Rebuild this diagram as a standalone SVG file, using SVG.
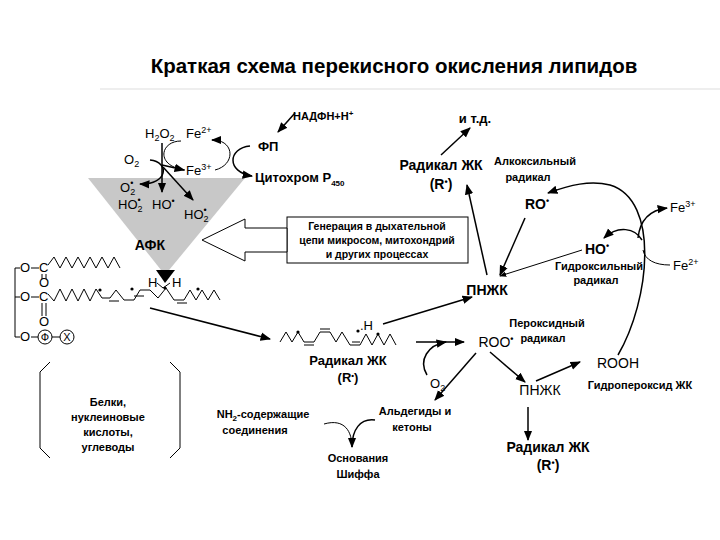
<svg xmlns="http://www.w3.org/2000/svg" width="720" height="540" viewBox="0 0 720 540">
<defs>
<marker id="a" viewBox="0 0 10 10" refX="9" refY="5" markerWidth="7" markerHeight="7" orient="auto-start-reverse"><path d="M0,1 L10,5 L0,9 z" fill="#000"/></marker>
<style>
text{font-family:"Liberation Sans",Arial,sans-serif;fill:#000}
.b{font-weight:bold}
.s{font-size:13px}
.m{font-size:14px}
.t{font-size:11px}
.ln{fill:none;stroke:#000;stroke-width:1.5}
.ar{fill:none;stroke:#000;stroke-width:1.5;marker-end:url(#a)}
.th{fill:none;stroke:#000;stroke-width:1}
</style>
</defs>
<rect width="720" height="540" fill="#fff"/>
<text x="394" y="73" text-anchor="middle" class="b" font-size="20.5">Краткая схема перекисного окисления липидов</text>
<line x1="100" y1="89" x2="720" y2="89" stroke="#ddd" stroke-width="1"/>

<g id="afk">
<polygon points="88,178 245,178 165,275" fill="#c8c8c8"/>
<polygon points="156,270 175,270 165,283" fill="#000"/>
<text x="150" y="250" text-anchor="middle" class="b m">АФК</text>
<text x="145" y="138" class="s">H<tspan font-size="9" dy="3">2</tspan><tspan dy="-3">O</tspan><tspan font-size="9" dy="3">2</tspan></text>
<text x="186" y="138" class="s">Fe<tspan font-size="9" dy="-5">2+</tspan></text>
<text x="124" y="164" class="s">O<tspan font-size="9" dy="3">2</tspan></text>
<text x="186" y="175" class="s">Fe<tspan font-size="9" dy="-5">3+</tspan></text>
<text x="120" y="192" class="s">O<tspan font-size="9" dy="3">2</tspan><tspan font-size="9" dx="-5" dy="-9">•</tspan></text>
<text x="118" y="209" class="s">HO<tspan font-size="9" dy="3">2</tspan><tspan font-size="9" dx="-5" dy="-9">•</tspan></text>
<text x="152" y="209" class="s">HO<tspan font-size="9" dy="-5">•</tspan></text>
<text x="184" y="219" class="s">HO<tspan font-size="9" dy="3">2</tspan><tspan font-size="9" dx="-5" dy="-9">•</tspan></text>
<line x1="162" y1="143" x2="162" y2="192" class="ar"/>
<path d="M181,141 C160,141 155,166 185,170" class="th"/>
<path d="M162,165 L184,170" class="ar"/>
<path d="M215,170 C235,165 235,142 215,140" class="th"/>
<path d="M215,140 L212,140" class="ar"/>
<path d="M150,160 C170,162 168,185 140,184" class="ar"/>
<path d="M163,167 L193,200" class="ar"/>
</g>

<g id="fp">
<text x="258" y="151" class="b s">ФП</text>
<text x="293" y="120" class="b t">НАДФН+Н<tspan font-size="8" dy="-4">+</tspan></text>
<line x1="295" y1="113" x2="278" y2="132" class="ar"/>
<text x="255" y="182" class="b s">Цитохром Р<tspan font-size="8" dy="4">450</tspan></text>
<path d="M250,146 C228,148 226,172 252,176" class="ar"/>
</g>

<g id="gen">
<rect x="287" y="217" width="181" height="46" fill="#fff" stroke="#000" stroke-width="1"/>
<text x="377" y="230" text-anchor="middle" class="b" font-size="10.5">Генерация в дыхательной</text>
<text x="377" y="244" text-anchor="middle" class="b" font-size="10.5">цепи микросом, митохондрий</text>
<text x="377" y="258" text-anchor="middle" class="b" font-size="10.5">и других процессах</text>
<polygon points="287,228 245,228 245,219 202,240 245,261 245,252 287,252" fill="#fff" stroke="#000" stroke-width="1"/>
</g>

<g id="lipid">
<path d="M15,268 V337 M15,268 H20 M15,297 H20 M15,337 H20" class="th"/>
<text x="20" y="272" class="s">O</text><line x1="31" y1="268" x2="39" y2="268" class="th"/><text x="39" y="272" class="s">C</text>
<text x="20" y="301" class="s">O</text><line x1="31" y1="297" x2="39" y2="297" class="th"/><text x="39" y="301" class="s">C</text>
<text x="39" y="287" class="s">O</text><text x="39" y="326" class="s">O</text>
<path d="M42,274 V279 M46,274 V279 M42,303 V316 M46,303 V316" class="th"/>
<text x="20" y="341" class="s">O</text><line x1="31" y1="337" x2="38" y2="337" class="th"/>
<circle cx="45" cy="337" r="7" class="th"/><text x="45" y="341" text-anchor="middle" font-size="11">Ф</text>
<line x1="52" y1="337" x2="60" y2="337" class="th"/>
<circle cx="67" cy="337" r="7" class="th"/><text x="67" y="341" text-anchor="middle" font-size="11">X</text>
<path d="M48,265 L54,257 L60,268 L66,257 L72,268 L78,257 L84,268 L90,257 L96,268 L102,257 L108,268 L114,257 L120,268" class="th"/>
<path d="M48,294 L54,301 L60,289 L66,301 L72,289 L78,301 L84,289 L90,301 L96,289 L102,298 L110,298 L116,290 L124,300 L134,300 L140,290 L150,290 L158,298 L166,288 L174,300 L184,300 L190,290 L196,300 L202,290 L208,300 L214,290 L220,300" class="th"/>
<path d="M109,301 H119 M134,296 H144 M177,303 H187" class="th"/>
<circle cx="100" cy="290" r="1.6"/><circle cx="132" cy="289" r="1.6"/><circle cx="198" cy="289" r="1.6"/><circle cx="165" cy="288" r="1.6"/>
<text x="148" y="287" class="s">H</text><text x="172" y="287" class="s">H</text>
<path d="M157,283 L163,288 L170,283" class="th"/>
</g>

<g id="rad1">
<line x1="150" y1="308" x2="270" y2="339" class="ar"/>
<path d="M280,342 L286,332 L292,342 L298,332 L304,342 L314,342 L320,332 L330,332 L336,342 L342,332 L350,345 L360,345 L366,334 L372,345 L378,334 L384,345 L390,334 L396,345" class="th"/>
<path d="M304,345 H314 M320,329 H330 M352,342 H360" class="th"/>
<circle cx="298" cy="332" r="1.6"/><circle cx="358" cy="331" r="1.6"/><circle cx="378" cy="334" r="1.6"/>
<text x="360" y="330" class="s">.H</text>
<text x="348" y="365" text-anchor="middle" class="b s">Радикал ЖК</text>
<text x="348" y="382" text-anchor="middle" class="b s">(R<tspan font-size="8" dy="-4">•</tspan><tspan dy="4">)</tspan></text>
<line x1="383" y1="324" x2="472" y2="297" class="ar"/>
</g>

<g id="pnzhk">
<text x="487" y="295" text-anchor="middle" class="b m">ПНЖК</text>
<line x1="487" y1="275" x2="467" y2="185" class="ar"/>
<text x="441" y="170" text-anchor="middle" class="b m">Радикал ЖК</text>
<text x="441" y="189" text-anchor="middle" class="b m">(R<tspan font-size="9" dy="-4">•</tspan><tspan dy="4">)</tspan></text>
<line x1="441" y1="155" x2="470" y2="128" class="ar"/>
<text x="475" y="123" text-anchor="middle" class="b s">и т.д.</text>
<text x="535" y="165" text-anchor="middle" class="b t">Алкоксильный</text>
<text x="528" y="181" text-anchor="middle" class="b t">радикал</text>
<text x="537" y="209" text-anchor="middle" class="b m">RO<tspan font-size="9" dy="-5">•</tspan></text>
<line x1="525" y1="218" x2="500" y2="275" class="ar"/>
<text x="597" y="254" text-anchor="middle" class="b m">HO<tspan font-size="9" dy="-5">•</tspan></text>
<line x1="582" y1="250" x2="500" y2="276" class="th" marker-end="url(#a)"/>
<text x="599" y="270" text-anchor="middle" class="b t">Гидроксильный</text>
<text x="596" y="284" text-anchor="middle" class="b t">радикал</text>
<path d="M618,355 C650,300 660,200 610,185 C590,180 570,185 548,193" class="ar"/>
<path d="M642,240 C635,228 618,225 604,238" class="ar"/>
<path d="M638,238 C640,220 650,210 667,208" class="ar"/>
<path d="M643,250 C645,260 655,265 670,265" class="th"/>
<text x="670" y="212" class="s">Fe<tspan font-size="9" dy="-5">3+</tspan></text>
<text x="673" y="270" class="s">Fe<tspan font-size="9" dy="-5">2+</tspan></text>
</g>

<g id="roo">
<line x1="416" y1="342" x2="464" y2="342" class="ar"/>
<path d="M427,375 C418,360 428,345 446,342" class="ar"/>
<text x="430" y="388" class="s">O<tspan font-size="9" dy="3">2</tspan></text>
<text x="496" y="347" text-anchor="middle" class="m">ROO<tspan font-size="9" dy="-5" font-weight="bold">•</tspan></text>
<text x="547" y="327" text-anchor="middle" class="b t">Пероксидный</text>
<text x="543" y="342" text-anchor="middle" class="b t">радикал</text>
<line x1="476" y1="353" x2="435" y2="400" class="ar"/>
<line x1="490" y1="352" x2="525" y2="382" class="ar"/>
<text x="540" y="395" text-anchor="middle" class="m">ПНЖК</text>
<line x1="536" y1="381" x2="580" y2="362" class="ar"/>
<text x="618" y="368" text-anchor="middle" class="m">ROOH</text>
<text x="640" y="389" text-anchor="middle" class="b t">Гидропероксид ЖК</text>
<line x1="528" y1="407" x2="528" y2="440" class="ar"/>
<text x="548" y="452" text-anchor="middle" class="b m">Радикал ЖК</text>
<text x="548" y="470" text-anchor="middle" class="b m">(R<tspan font-size="9" dy="-4">•</tspan><tspan dy="4">)</tspan></text>
</g>

<g id="schiff">
<text x="415" y="415" text-anchor="middle" class="b t">Альдегиды и</text>
<text x="412" y="431" text-anchor="middle" class="b t">кетоны</text>
<text x="263" y="418" text-anchor="middle" class="b t">NH<tspan font-size="8" dy="3">2</tspan><tspan dy="-3">-содержащие</tspan></text>
<text x="255" y="434" text-anchor="middle" class="b t">соединения</text>
<path d="M324,424 C345,418 352,432 352,447" class="th"/>
<path d="M375,420 C360,418 352,430 352,447" class="ar"/>
<text x="358" y="462" text-anchor="middle" class="b t">Основания</text>
<text x="358" y="478" text-anchor="middle" class="b t">Шиффа</text>
</g>

<g id="belki">
<path d="M50,362 L40,372 V448 L50,458 M170,362 L180,372 V448 L170,458" class="th"/>
<text x="108" y="406" text-anchor="middle" class="b t">Белки,</text>
<text x="108" y="421" text-anchor="middle" class="b t">нуклеиновые</text>
<text x="108" y="436" text-anchor="middle" class="b t">кислоты,</text>
<text x="108" y="451" text-anchor="middle" class="b t">углеводы</text>
</g>
</svg>
